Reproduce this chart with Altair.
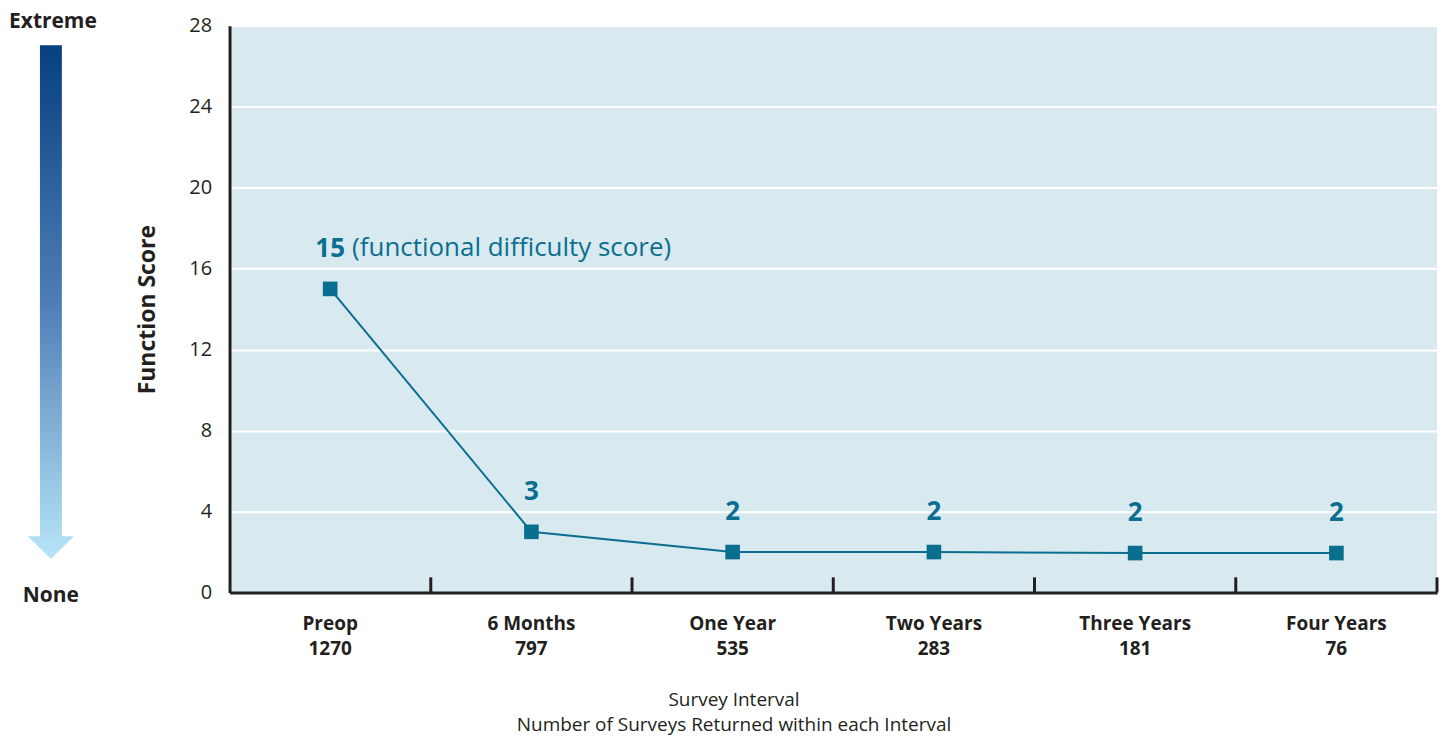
import altair as alt
import pandas as pd

# ---- data ----
intervals = ["Preop", "6 Months", "One Year", "Two Years", "Three Years", "Four Years"]
surveys_returned = [1270, 797, 535, 283, 181, 76]
scores = [15, 3, 2, 2, 1.95, 1.95]
score_labels = ["15", "3", "2", "2", "2", "2"]
notes = ["(functional difficulty score)", "", "", "", "", ""]
y_ticks = [0, 4, 8, 12, 16, 20, 24, 28]
scale_top_label = "Extreme"
scale_bottom_label = "None"

FONT = "Open Sans"
TEAL = "#0a6f8f"
INK = "#231f20"
BG = "#d9e9f0"

cats = [f"{a}|{b}" for a, b in zip(intervals, surveys_returned)]
df = pd.DataFrame({"cat": cats, "score": scores, "lab": score_labels, "note": notes})

xscale = alt.Scale(type="band", paddingInner=0, paddingOuter=0)
yscale = alt.Scale(domain=[0, 28], nice=False, zero=True)

x_axis = alt.Axis(
    title=["Survey Interval", "Number of Surveys Returned within each Interval"],
    labelExpr="split(datum.label, '|')",
    labelAngle=0,
    ticks=False,
    grid=False,
    domainColor=INK,
    domainWidth=3,
    labelFont=FONT,
    labelFontSize=19,
    labelFontWeight="bold",
    labelColor=INK,
    labelPadding=22,
    labelLineHeight=25,
    titleFont=FONT,
    titleFontSize=19,
    titleFontWeight="normal",
    titleColor=INK,
    titleLineHeight=25,
    titlePadding=32,
    titleX=505,
    titleAlign="center",
)

y_axis = alt.Axis(
    values=y_ticks,
    title="Function Score",
    ticks=False,
    grid=True,
    gridColor="white",
    gridWidth=2,
    domainColor=INK,
    domainWidth=3,
    labelFont=FONT,
    labelFontSize=20,
    labelColor=INK,
    labelPadding=18,
    titleFont=FONT,
    titleFontSize=23,
    titleFontWeight="bold",
    titleColor=INK,
    titlePadding=29,
)

X = alt.X("cat:N", sort=cats, scale=xscale, bandPosition=0.5, axis=x_axis)
Xp = alt.X("cat:N", sort=cats, scale=xscale, bandPosition=0.5)
Y = alt.Y("score:Q", scale=yscale, axis=y_axis)
Yp = alt.Y("score:Q", scale=yscale)

base = alt.Chart(df)

line = base.mark_line(color=TEAL, strokeWidth=2).encode(x=X, y=Y)
pts = base.mark_square(size=215, color=TEAL, opacity=1, filled=True).encode(x=Xp, y=Yp)
nums = base.mark_text(font=FONT, fontSize=26, fontWeight="bold", color=TEAL,
                      baseline="middle", align="center", dy=-40).encode(x=Xp, y=Yp, text="lab:N")
note = base.mark_text(font=FONT, fontSize=26, fontWeight="normal", color=TEAL,
                      baseline="middle", align="left", dx=22, dy=-41).encode(x=Xp, y=Yp, text="note:N")

# tick marks pointing inward at band edges
ticks = base.mark_rule(color=INK, strokeWidth=3).encode(
    x=alt.X("cat:N", sort=cats, scale=xscale, bandPosition=1),
    y=alt.datum(0),
    y2=alt.datum(0.75),
)

# decorative gradient arrow (severity scale) left of the axis
arrow_path = ("M-0.0427,-1L0.0427,-1L0.0427,0.9107L0.0893,0.9107L0,1"
              "L-0.0893,0.9107L-0.0427,0.9107Z")
grad = alt.Gradient(
    gradient="linear",
    stops=[alt.GradientStop(color="#073f80", offset=0),
           alt.GradientStop(color="#4e7eb6", offset=0.5),
           alt.GradientStop(color="#b8e5f8", offset=1)],
    x1=0, x2=0, y1=0, y2=1,
)
ann = pd.DataFrame({"t": [scale_top_label]})
arrow = alt.Chart(ann).mark_point(shape=arrow_path, size=265225, filled=True,
                                  fill=grad, strokeWidth=0, opacity=1).encode(
    x=alt.value(-179), y=alt.value(277))
top_txt = alt.Chart(ann).mark_text(font=FONT, fontSize=21, fontWeight="bold", color=INK,
                                   baseline="middle").encode(
    x=alt.value(-177), y=alt.value(-4), text=alt.value(scale_top_label))
bot_txt = alt.Chart(ann).mark_text(font=FONT, fontSize=21, fontWeight="bold", color=INK,
                                   baseline="middle").encode(
    x=alt.value(-179), y=alt.value(571), text=alt.value(scale_bottom_label))

chart = alt.layer(line, ticks, pts, nums, note, arrow, top_txt, bot_txt).properties(
    width=1210, height=568,
    padding={"left": 1, "top": 2, "right": 0, "bottom": 4},
).configure_view(fill=BG, stroke=None)

chart.save("out.html", embed_options={"renderer": "svg", "actions": False})
